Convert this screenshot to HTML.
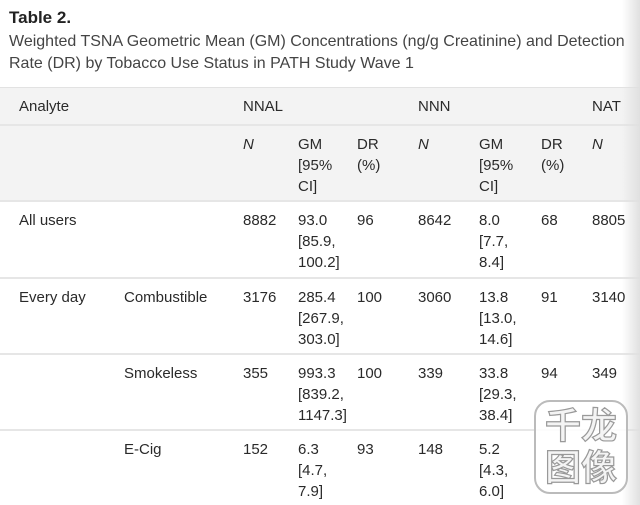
<!DOCTYPE html>
<html><head><meta charset="utf-8"><style>
body{margin:0;width:640px;height:505px;overflow:hidden;background:#fff;font-family:"Liberation Sans","Noto Sans CJK SC",sans-serif;color:#2a2a2a;position:relative}
.t{position:absolute;font-size:15px;line-height:21px;white-space:nowrap}
.hl{position:absolute;left:0;width:640px;height:2px;background:#e6e6e6}
</style></head><body>
<div class="t" style="left:9px;top:7px;font-size:17px;font-weight:bold;color:#222">Table 2.</div>
<div class="t" style="left:9px;top:31px;color:#444;line-height:22px;font-size:16px">Weighted TSNA Geometric Mean (GM) Concentrations (ng/g Creatinine) and Detection<br>Rate (DR) by Tobacco Use Status in PATH Study Wave 1</div>
<div style="position:absolute;left:0;top:87px;width:640px;height:114px;background:#f3f3f3;border-top:1px solid #e2e2e2"></div>
<div class="hl" style="top:124px"></div>
<div class="hl" style="top:200px"></div>
<div class="hl" style="top:277px"></div>
<div class="hl" style="top:353px"></div>
<div class="hl" style="top:429px"></div>
<div style="position:absolute;right:0;top:0;width:18px;height:505px;background:linear-gradient(to right,rgba(230,230,230,0),#e0e0e0)"></div>

<div class="t" style="left:19px;top:96px">Analyte</div>
<div class="t" style="left:243px;top:96px">NNAL</div>
<div class="t" style="left:418px;top:96px">NNN</div>
<div class="t" style="left:592px;top:96px">NAT</div>

<div class="t" style="left:243px;top:134px;font-style:italic">N</div>
<div class="t" style="left:298px;top:134px">GM<br>[95%<br>CI]</div>
<div class="t" style="left:357px;top:134px">DR<br>(%)</div>
<div class="t" style="left:418px;top:134px;font-style:italic">N</div>
<div class="t" style="left:479px;top:134px">GM<br>[95%<br>CI]</div>
<div class="t" style="left:541px;top:134px">DR<br>(%)</div>
<div class="t" style="left:592px;top:134px;font-style:italic">N</div>

<div class="t" style="left:19px;top:210px">All users</div>
<div class="t" style="left:243px;top:210px">8882</div>
<div class="t" style="left:298px;top:210px">93.0<br>[85.9,<br>100.2]</div>
<div class="t" style="left:357px;top:210px">96</div>
<div class="t" style="left:418px;top:210px">8642</div>
<div class="t" style="left:479px;top:210px">8.0<br>[7.7,<br>8.4]</div>
<div class="t" style="left:541px;top:210px">68</div>
<div class="t" style="left:592px;top:210px">8805</div>

<div class="t" style="left:19px;top:287px">Every day</div>
<div class="t" style="left:124px;top:287px">Combustible</div>
<div class="t" style="left:243px;top:287px">3176</div>
<div class="t" style="left:298px;top:287px">285.4<br>[267.9,<br>303.0]</div>
<div class="t" style="left:357px;top:287px">100</div>
<div class="t" style="left:418px;top:287px">3060</div>
<div class="t" style="left:479px;top:287px">13.8<br>[13.0,<br>14.6]</div>
<div class="t" style="left:541px;top:287px">91</div>
<div class="t" style="left:592px;top:287px">3140</div>

<div class="t" style="left:124px;top:363px">Smokeless</div>
<div class="t" style="left:243px;top:363px">355</div>
<div class="t" style="left:298px;top:363px">993.3<br>[839.2,<br>1147.3]</div>
<div class="t" style="left:357px;top:363px">100</div>
<div class="t" style="left:418px;top:363px">339</div>
<div class="t" style="left:479px;top:363px">33.8<br>[29.3,<br>38.4]</div>
<div class="t" style="left:541px;top:363px">94</div>
<div class="t" style="left:592px;top:363px">349</div>

<div class="t" style="left:124px;top:439px">E-Cig</div>
<div class="t" style="left:243px;top:439px">152</div>
<div class="t" style="left:298px;top:439px">6.3<br>[4.7,<br>7.9]</div>
<div class="t" style="left:357px;top:439px">93</div>
<div class="t" style="left:418px;top:439px">148</div>
<div class="t" style="left:479px;top:439px">5.2<br>[4.3,<br>6.0]</div>

<div style="position:absolute;left:534px;top:400px;width:90px;height:90px;border:2px solid #bbb;border-radius:16px;background:rgba(255,255,255,0.85);font-family:'Noto Sans CJK SC',sans-serif;font-size:36px;line-height:42px;color:#f4f4f4;-webkit-text-stroke:1.2px #999;text-align:center;font-weight:bold">千龙<br>图像</div>
</body></html>
